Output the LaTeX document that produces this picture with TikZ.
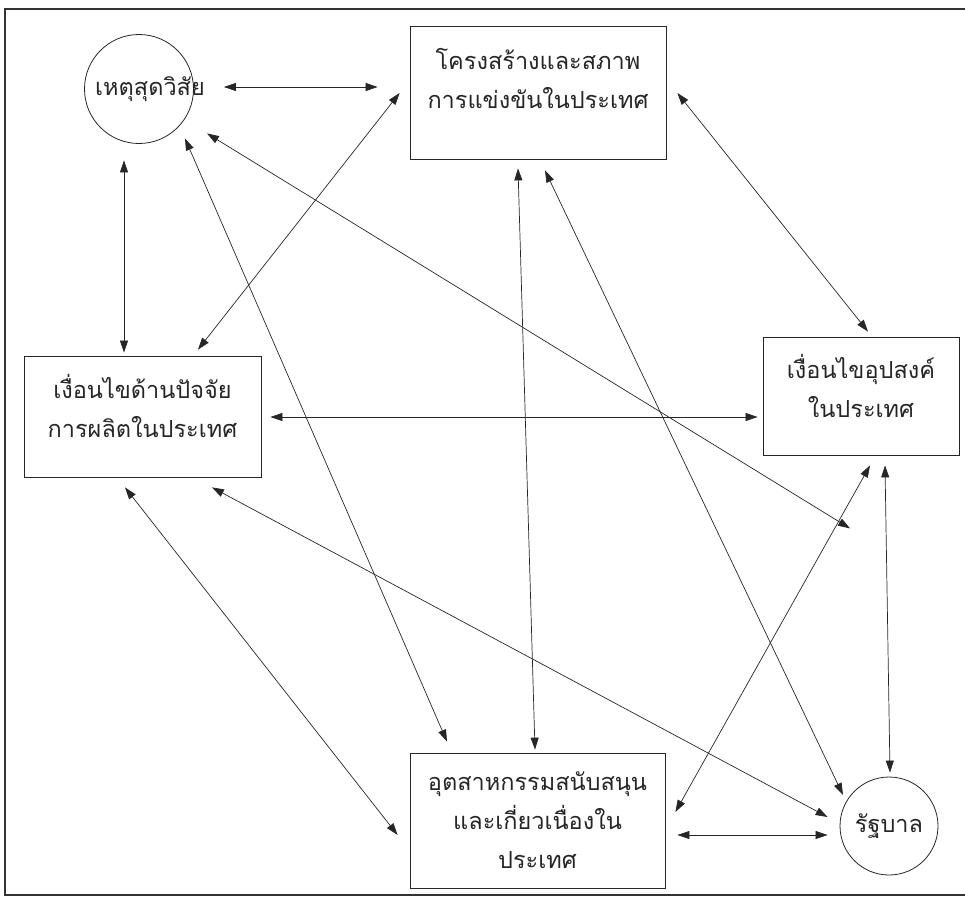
\documentclass[tikz,border=0pt]{standalone}
\usepackage{fontspec}
\setmainfont[Script=Thai]{Loma}
\usetikzlibrary{arrows.meta,calc}

\begin{document}
\begin{tikzpicture}[x=1pt, y=-1pt,
  every node/.style = {font=\fontsize{23.5}{39}\selectfont, text=black!85, align=center},
  box/.style = {shape=rectangle, draw=black!85, line width=0.8pt, inner sep=0pt},
  ring/.style = {shape=circle, draw=black!85, line width=0.8pt, inner sep=0pt},
  link/.style = {draw=black!85, line width=0.7pt, {Triangle[length=12pt,width=8pt]}-{Triangle[length=12pt,width=8pt]}}
]
  \useasboundingbox (0,0) rectangle (965,897);
  \draw[black!80, line width=1.3pt] (965,9) -- (5,9) -- (5,895) -- (965,895);

  % the six parts
  \node[ring, minimum size=109pt] (chance) at (139,89) {};
  \node (chancetext) at (150,89) {เหตุสุดวิสัย};
  \node[box, minimum width=256pt, minimum height=133pt] (rivalry) at (538,92.5)
    {โครงสร้างและสภาพ\\การแข่งขันในประเทศ\\[-10pt]\mbox{}};
  \node[box, minimum width=237pt, minimum height=121pt] (factor) at (142.5,416.5)
    {เงื่อนไขด้านปัจจัย\\การผลิตในประเทศ\\[-18pt]\mbox{}};
  \node[box, minimum width=196pt, minimum height=118pt] (demand) at (861,396)
    {เงื่อนไขอุปสงค์\\ในประเทศ\\[-18pt]\mbox{}};
  \node[box, minimum width=255pt, minimum height=135pt] (related) at (537.5,820.5)
    {อุตสาหกรรมสนับสนุน\\และเกี่ยวเนื่องใน\\ประเทศ};
  \node[ring, minimum size=98pt] (gov) at (889,826) {รัฐบาล};

  % links
  \draw[link] ($(chance.east)+(30,-2)$) -- ($(rivalry.west)+(-32,-5.5)$);
  \draw[link] ($(chance.south)+(-15,16.5)$) -- ($(factor.north)+(-18.5,-3)$);
  \draw[link] ($(factor.north)+(55.5,-6)$) -- ($(rivalry.west)+(-10,0.5)$);
  \draw[link] ($(chance.south)+(46,-5.5)$) -- ($(related.north)+(-90.5,-11)$);
  \draw[link] ($(chance.south)+(68,-10.5)$) -- ($(demand.south)+(-11,73)$);
  \draw[link] ($(factor.east)+(9,0.5)$) -- ($(demand.west)+(-5,21)$);
  \draw[link] ($(rivalry.east)+(11,0.5)$) -- ($(demand.north)+(7,-5)$);
  \draw[link] ($(rivalry.south)+(-20,9)$) -- ($(related.north)+(-2.5,-3)$);
  \draw[link] ($(rivalry.south)+(7,11)$) -- ($(gov)+(-46,-31)$);
  \draw[link] ($(factor.south)+(-17.5,10)$) -- ($(related.west)+(-12,14.5)$);
  \draw[link] ($(factor.south)+(69.5,10)$) -- ($(gov.west)+(-12,-9)$);
  \draw[link] ($(demand.south)+(9,10)$) -- ($(related.east)+(10,-8.5)$);
  \draw[link] ($(demand.south)+(24,10)$) -- ($(gov.north)+(1,-4)$);
  \draw[link] ($(related.east)+(12,14.5)$) -- ($(gov.west)+(-12,9)$);

\end{tikzpicture}
\end{document}
